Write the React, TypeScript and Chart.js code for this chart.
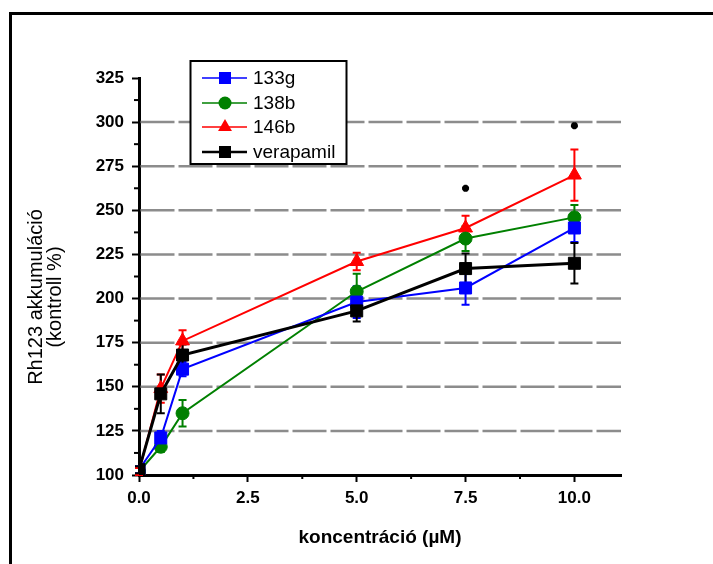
import React, { useEffect, useRef } from 'react';
import { Chart, registerables } from 'chart.js';

Chart.register(...registerables);

// ---- data ----
const concentrations = [0, 0.5, 1, 5, 7.5, 10];
const seriesLabels = ['133g', '138b', '146b', 'verapamil'];
const series133g = [103, 121, 160, 198, 206, 240];
const err133g = [2, 4, 4, 9, 9.5, 8];
const series138b = [102, 116, 135, 204, 234, 246];
const err138b = [2, 3, 7.5, 10, 7, 7];
const series146b = [102, 149, 176, 221, 240, 270];
const err146b = [2, 8, 6, 5, 7, 14.5];
const seriesVerapamil = [103, 146, 168, 193, 217, 220];
const errVerapamil = [2, 11, 6, 6, 8.5, 11.5];
const starX = [7.5, 10];
const starY = [262.5, 298];
const gridValues = [125, 150, 175, 200, 225, 250, 275, 300];
const xTitle = 'koncentráció (µM)';
const yTitle = ['Rh123 akkumuláció', '(kontroll %)'];

const FONT = "'Liberation Sans', Arial, sans-serif";

const toPoints = (ys: number[]) => concentrations.map((x, i) => ({ x, y: ys[i] }));

function drawMarker(ctx: CanvasRenderingContext2D, style: string, x: number, y: number, r: number, color: string) {
  ctx.fillStyle = color;
  ctx.beginPath();
  if (style === 'rect') {
    const s = Math.SQRT1_2 * r;
    ctx.rect(x - s, y - s, 2 * s, 2 * s);
  } else if (style === 'circle') {
    ctx.arc(x, y, r, 0, Math.PI * 2);
  } else if (style === 'triangle') {
    ctx.moveTo(x, y - r);
    ctx.lineTo(x + r * Math.sqrt(3) / 2, y + r / 2);
    ctx.lineTo(x - r * Math.sqrt(3) / 2, y + r / 2);
    ctx.closePath();
  }
  ctx.fill();
}

const decorPlugin = {
  id: 'decor',
  beforeDatasetsDraw(chart: any) {
    const { ctx, chartArea, scales } = chart;
    const xs = scales.x;
    const ys = scales.y;
    ctx.save();
    // dashed grid lines
    ctx.strokeStyle = '#8c8c8c';
    ctx.lineWidth = 2.5;
    ctx.setLineDash([34, 4]);
    gridValues.forEach((v) => {
      const py = ys.getPixelForValue(v);
      ctx.beginPath();
      ctx.moveTo(chartArea.left + 1.5, py);
      ctx.lineTo(chartArea.right, py);
      ctx.stroke();
    });
    ctx.setLineDash([]);
    // error bars
    chart.data.datasets.forEach((ds: any) => {
      const errs: number[] | undefined = ds.errors;
      if (!errs) return;
      ctx.strokeStyle = ds.borderColor;
      ctx.lineWidth = 2;
      ds.data.forEach((pt: any, j: number) => {
        const px = xs.getPixelForValue(pt.x);
        const top = ys.getPixelForValue(pt.y + errs[j]);
        const bot = ys.getPixelForValue(pt.y - errs[j]);
        ctx.beginPath();
        ctx.moveTo(px, top);
        ctx.lineTo(px, bot);
        ctx.moveTo(px - 4, top);
        ctx.lineTo(px + 4, top);
        ctx.moveTo(px - 4, bot);
        ctx.lineTo(px + 4, bot);
        ctx.stroke();
      });
    });
    ctx.restore();
  },
  afterDraw(chart: any) {
    const { ctx, chartArea, scales } = chart;
    const xs = scales.x;
    const ys = scales.y;
    ctx.save();
    // minor ticks
    ctx.strokeStyle = '#000';
    ctx.lineWidth = 2;
    const yt = ys.ticks.map((t: any) => t.value);
    for (let i = 0; i < yt.length - 1; i++) {
      const py = ys.getPixelForValue((yt[i] + yt[i + 1]) / 2);
      ctx.beginPath();
      ctx.moveTo(chartArea.left - 5, py);
      ctx.lineTo(chartArea.left, py);
      ctx.stroke();
    }
    const xt = xs.ticks.map((t: any) => t.value);
    for (let i = 0; i < xt.length - 1; i++) {
      const px = xs.getPixelForValue((xt[i] + xt[i + 1]) / 2);
      ctx.beginPath();
      ctx.moveTo(px, chartArea.bottom);
      ctx.lineTo(px, chartArea.bottom + 4);
      ctx.stroke();
    }
    // axis titles
    ctx.fillStyle = '#000';
    ctx.textAlign = 'center';
    ctx.textBaseline = 'middle';
    ctx.font = `bold 19px ${FONT}`;
    ctx.fillText(xTitle, (chartArea.left + chartArea.right) / 2, 538);
    ctx.font = `20px ${FONT}`;
    const yc = 297;
    [36, 55].forEach((tx, i) => {
      ctx.save();
      ctx.translate(tx, yc);
      ctx.rotate(-Math.PI / 2);
      ctx.fillText(yTitle[i], 0, 0);
      ctx.restore();
    });
    // legend
    const lx = 190.5, ly = 61, lw = 156, lh = 103;
    ctx.fillStyle = '#fff';
    ctx.fillRect(lx, ly, lw, lh);
    ctx.strokeStyle = '#000';
    ctx.lineWidth = 2;
    ctx.strokeRect(lx, ly, lw, lh);
    const rows = [78, 103, 127, 152];
    chart.data.datasets.filter((d: any) => d.errors).forEach((ds: any, i: number) => {
      const ry = rows[i];
      ctx.strokeStyle = ds.borderColor;
      ctx.lineWidth = ds.borderColor === '#000000' ? 2.5 : 1.5;
      ctx.beginPath();
      ctx.moveTo(202, ry);
      ctx.lineTo(247, ry);
      ctx.stroke();
      drawMarker(ctx, ds.pointStyle, 225, ry, ds.pointRadius, ds.backgroundColor);
      ctx.fillStyle = '#000';
      ctx.textAlign = 'left';
      ctx.textBaseline = 'middle';
      ctx.font = `19px ${FONT}`;
      ctx.fillText(ds.label, 253, ry + 1);
    });
    ctx.restore();
  },
};

export default function App() {
  const ref = useRef<HTMLCanvasElement>(null);
  useEffect(() => {
    if (!ref.current) return;
    Chart.defaults.font.family = FONT;
    Chart.defaults.color = '#000';
    const mk = (label: string, data: number[], errors: number[], color: string, style: string, radius: number, width: number, order: number) => ({
      label,
      data: toPoints(data),
      errors,
      borderColor: color,
      backgroundColor: color,
      pointBackgroundColor: color,
      pointBorderColor: color,
      pointStyle: style,
      pointRadius: radius,
      pointBorderWidth: 1,
      borderWidth: width,
      showLine: true,
      tension: 0,
      order,
    });
    const chart = new Chart(ref.current, {
      type: 'line',
      data: {
        datasets: [
          mk(seriesLabels[0], series133g, err133g, '#0000ff', 'rect', 8.5, 2, 1),
          mk(seriesLabels[1], series138b, err138b, '#008000', 'circle', 6.5, 2, 2),
          mk(seriesLabels[2], series146b, err146b, '#ff0000', 'triangle', 8, 2, 3),
          mk(seriesLabels[3], seriesVerapamil, errVerapamil, '#000000', 'rect', 8.5, 3, 0),
          {
            label: 'significance',
            data: starX.map((x, i) => ({ x, y: starY[i] })),
            showLine: false,
            pointStyle: 'star',
            pointRadius: 3.5,
            pointBorderWidth: 2.5,
            borderColor: '#000',
            backgroundColor: '#000',
            order: 0,
          } as any,
        ] as any,
      },
      options: {
        responsive: false,
        animation: false,
        events: [],
        layout: { padding: { left: 0, top: 78, right: 92, bottom: 0 } },
        plugins: { legend: { display: false }, tooltip: { enabled: false }, title: { display: false } },
        scales: {
          x: {
            type: 'linear',
            min: 0,
            max: 11.07,
            afterFit: (s: any) => { s.height = 89; },
            ticks: {
              stepSize: 2.5,
              includeBounds: false,
              padding: 6,
              font: { size: 17, weight: 'bold' },
              color: '#000',
              callback: (v: any) => Number(v).toFixed(1),
            },
            grid: { display: true, drawOnChartArea: false, drawTicks: true, tickLength: 7, tickWidth: 2, tickColor: '#000' },
            border: { display: true, color: '#000', width: 3 },
          },
          y: {
            type: 'linear',
            min: 100,
            max: 325,
            afterFit: (s: any) => { s.width = 139; },
            ticks: {
              stepSize: 25,
              padding: 8,
              font: { size: 17, weight: 'bold' },
              color: '#000',
            },
            grid: { display: true, drawOnChartArea: false, drawTicks: true, tickLength: 7, tickWidth: 2, tickColor: '#000' },
            border: { display: true, color: '#000', width: 3 },
          },
        },
      } as any,
      plugins: [decorPlugin],
    });
    return () => chart.destroy();
  }, []);
  return (
    <div style={{ position: 'absolute', left: 0, top: 0, width: 713, height: 564, background: '#fff', overflow: 'hidden' }}>
      <div
        style={{
          position: 'absolute',
          left: 9,
          top: 12,
          width: 704,
          height: 552,
          boxSizing: 'border-box',
          borderTop: '3px solid #000',
          borderLeft: '3px solid #000',
        }}
      />
      <canvas ref={ref} width={713} height={564} style={{ position: 'absolute', left: 0, top: 0 }} />
    </div>
  );
}
